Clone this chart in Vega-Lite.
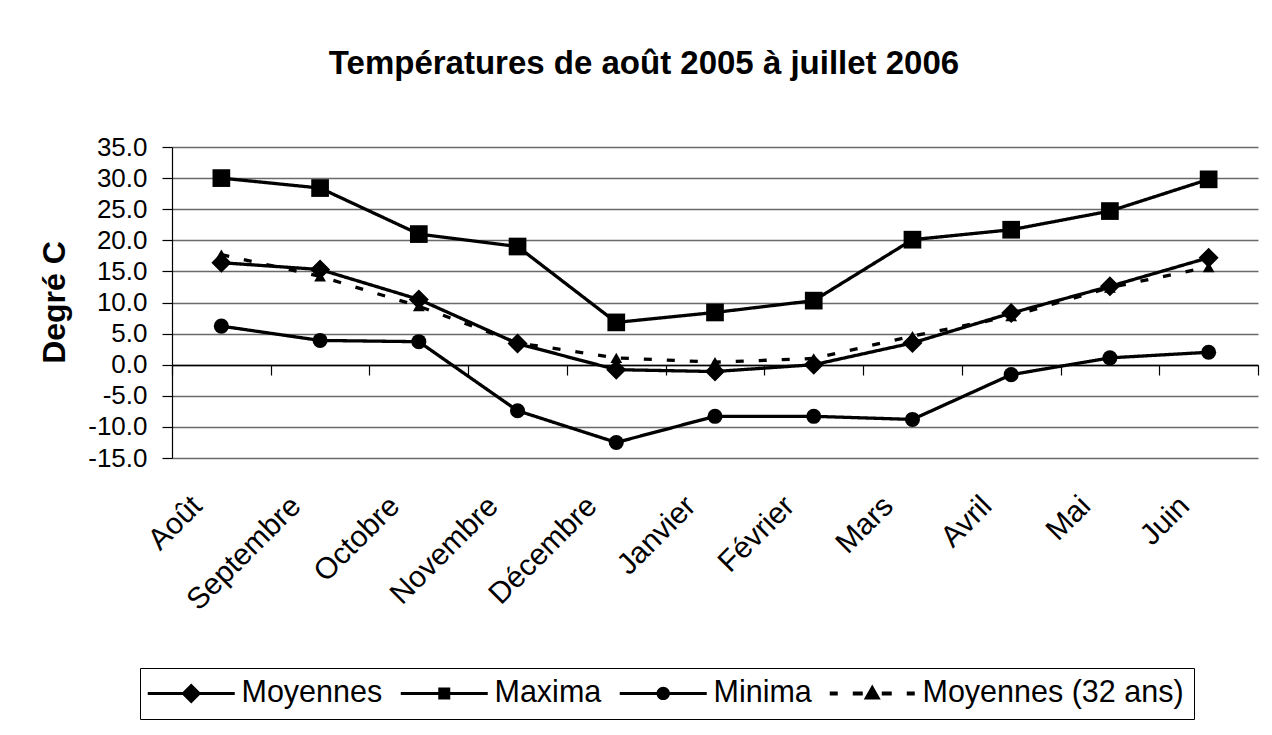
{
  "$schema": "https://vega.github.io/schema/vega-lite/v6.json",
  "width": 1086,
  "height": 311,
  "autosize": {"type": "none"},
  "padding": {"left": 172, "top": 147, "right": 14, "bottom": 277},
  "background": "white",
  "title": {
    "text": "Températures de août 2005 à juillet 2006",
    "font": "Liberation Sans",
    "fontSize": 33,
    "fontWeight": "bold",
    "color": "black",
    "anchor": "middle",
    "dx": -71,
    "offset": 53
  },
  "config": {
    "view": {"stroke": null},
    "font": "Liberation Sans"
  },
  "data": {
    "values": [
      {"mois": "Août", "serie": "Moyennes", "t": 16.4},
      {"mois": "Septembre", "serie": "Moyennes", "t": 15.3},
      {"mois": "Octobre", "serie": "Moyennes", "t": 10.5},
      {"mois": "Novembre", "serie": "Moyennes", "t": 3.4},
      {"mois": "Décembre", "serie": "Moyennes", "t": -0.8},
      {"mois": "Janvier", "serie": "Moyennes", "t": -1.1},
      {"mois": "Février", "serie": "Moyennes", "t": 0.0},
      {"mois": "Mars", "serie": "Moyennes", "t": 3.5},
      {"mois": "Avril", "serie": "Moyennes", "t": 8.3},
      {"mois": "Mai", "serie": "Moyennes", "t": 12.6},
      {"mois": "Juin", "serie": "Moyennes", "t": 17.2},
      {"mois": "Août", "serie": "Maxima", "t": 30.0},
      {"mois": "Septembre", "serie": "Maxima", "t": 28.4},
      {"mois": "Octobre", "serie": "Maxima", "t": 21.0},
      {"mois": "Novembre", "serie": "Maxima", "t": 19.0},
      {"mois": "Décembre", "serie": "Maxima", "t": 6.8},
      {"mois": "Janvier", "serie": "Maxima", "t": 8.4},
      {"mois": "Février", "serie": "Maxima", "t": 10.3},
      {"mois": "Mars", "serie": "Maxima", "t": 20.1},
      {"mois": "Avril", "serie": "Maxima", "t": 21.7},
      {"mois": "Mai", "serie": "Maxima", "t": 24.7},
      {"mois": "Juin", "serie": "Maxima", "t": 29.8},
      {"mois": "Août", "serie": "Minima", "t": 6.2},
      {"mois": "Septembre", "serie": "Minima", "t": 3.9},
      {"mois": "Octobre", "serie": "Minima", "t": 3.7},
      {"mois": "Novembre", "serie": "Minima", "t": -7.4},
      {"mois": "Décembre", "serie": "Minima", "t": -12.5},
      {"mois": "Janvier", "serie": "Minima", "t": -8.3},
      {"mois": "Février", "serie": "Minima", "t": -8.3},
      {"mois": "Mars", "serie": "Minima", "t": -8.8},
      {"mois": "Avril", "serie": "Minima", "t": -1.6},
      {"mois": "Mai", "serie": "Minima", "t": 1.1},
      {"mois": "Juin", "serie": "Minima", "t": 2.0},
      {"mois": "Août", "serie": "Moyennes (32 ans)", "t": 17.7},
      {"mois": "Septembre", "serie": "Moyennes (32 ans)", "t": 14.2},
      {"mois": "Octobre", "serie": "Moyennes (32 ans)", "t": 9.4},
      {"mois": "Novembre", "serie": "Moyennes (32 ans)", "t": 3.5},
      {"mois": "Décembre", "serie": "Moyennes (32 ans)", "t": 1.1},
      {"mois": "Janvier", "serie": "Moyennes (32 ans)", "t": 0.4},
      {"mois": "Février", "serie": "Moyennes (32 ans)", "t": 1.0},
      {"mois": "Mars", "serie": "Moyennes (32 ans)", "t": 4.6},
      {"mois": "Avril", "serie": "Moyennes (32 ans)", "t": 7.8},
      {"mois": "Mai", "serie": "Moyennes (32 ans)", "t": 12.4},
      {"mois": "Juin", "serie": "Moyennes (32 ans)", "t": 15.7}
    ]
  },
  "layer": [
    {
      "mark": {"type": "line", "color": "black", "strokeWidth": 3.3},
      "encoding": {
        "x": {
          "field": "mois", "type": "nominal",
          "sort": ["Août", "Septembre", "Octobre", "Novembre", "Décembre", "Janvier", "Février", "Mars", "Avril", "Mai", "Juin"],
          "scale": {"paddingInner": 0, "paddingOuter": 0},
          "axis": {
            "orient": "bottom", "title": null, "domain": false, "ticks": false, "tickSize": 0, "grid": false,
            "labelAngle": -45, "labelAlign": "right", "labelBaseline": "middle",
            "labelFont": "Liberation Sans", "labelFontSize": 30, "labelColor": "black",
            "labelPadding": 43, "labelOffset": -24
          }
        },
        "y": {
          "field": "t", "type": "quantitative",
          "scale": {"domain": [-15, 35], "nice": false, "zero": false},
          "axis": {
            "values": [-15, -10, -5, 0, 5, 10, 15, 20, 25, 30, 35],
            "tickCount": 11,
            "labelExpr": "replace(format(datum.value, '.1f'), '\u2212', '-')",
            "labelOverlap": false,
            "labelFont": "Liberation Sans", "labelFontSize": 26, "labelColor": "black",
            "labelPadding": 15, "tickSize": 10, "tickColor": "black", "domainColor": "black",
            "domainWidth": 1.2, "tickWidth": 1.2,
            "grid": true, "gridColor": "#6a6a6a", "gridWidth": 1.3,
            "title": "Degré C", "titleFont": "Liberation Sans", "titleFontSize": 32,
            "titleFontWeight": "bold", "titleColor": "black",
            "titleAngle": -90, "titleX": -118, "titleY": 155, "titleAlign": "center", "titleBaseline": "middle"
          }
        },
        "detail": {"field": "serie"},
        "strokeDash": {
          "field": "serie", "type": "nominal",
          "scale": {"domain": ["Moyennes", "Maxima", "Minima", "Moyennes (32 ans)"], "range": [[1, 0], [1, 0], [1, 0], [8, 15]]},
          "legend": null
        }
      }
    },
    {
      "mark": {"type": "point", "filled": true, "color": "black", "opacity": 1},
      "encoding": {
        "x": {
          "field": "mois", "type": "nominal",
          "sort": ["Août", "Septembre", "Octobre", "Novembre", "Décembre", "Janvier", "Février", "Mars", "Avril", "Mai", "Juin"],
          "axis": {
            "orient": "bottom", "offset": -93, "title": null, "labels": false, "grid": false,
            "domain": true, "domainColor": "black", "domainWidth": 1.5,
            "ticks": true, "tickBand": "extent", "tickSize": 10, "tickColor": "black", "tickWidth": 1.2
          }
        },
        "y": {"field": "t", "type": "quantitative"},
        "shape": {
          "field": "serie", "type": "nominal",
          "scale": {"domain": ["Moyennes", "Maxima", "Minima", "Moyennes (32 ans)"], "range": ["diamond", "square", "circle", "triangle-up"]},
          "legend": null
        },
        "size": {
          "field": "serie", "type": "nominal",
          "scale": {"domain": ["Moyennes", "Maxima", "Minima", "Moyennes (32 ans)"], "range": [400, 140, 182, 324]},
          "legend": null
        }
      }
    },
    {
      "mark": {"type": "point", "filled": true, "color": "black", "opacity": 0, "size": 400},
      "encoding": {
        "x": {
          "field": "mois", "type": "nominal",
          "sort": ["Août", "Septembre", "Octobre", "Novembre", "Décembre", "Janvier", "Février", "Mars", "Avril", "Mai", "Juin"],
          "axis": null
        },
        "y": {"field": "t", "type": "quantitative"},
        "shape": {
          "field": "serie", "type": "nominal",
          "scale": {
            "domain": ["Moyennes", "Maxima", "Minima", "Moyennes (32 ans)"],
            "range": [
              "M-1.75,-0.15H6.95V0.15H-1.75ZM1.6,0L2.6,-1L3.6,0L2.6,1Z",
              "M-1.75,-0.15H6.95V0.15H-1.75ZM2.0,-0.6H3.2V0.6H2.0Z",
              "M-1.75,-0.15H6.95V0.15H-1.75ZM3.27,0A0.67,0.67 0 1,1 1.93,0A0.67,0.67 0 1,1 3.27,0Z",
              "M-1.65,-0.2H-0.85V0.2H-1.65ZM0.65,-0.2H1.65V0.2H0.65ZM3.55,-0.2H4.55V0.2H3.55ZM6.05,-0.2H6.85V0.2H6.05ZM1.75,0.6L2.6,-0.9L3.45,0.6Z"
            ]
          },
          "legend": {
            "title": null, "orient": "none", "legendX": -32, "legendY": 521,
            "direction": "horizontal", "columns": 4,
            "symbolSize": 400, "symbolStrokeWidth": 0, "symbolOpacity": 1,
            "symbolFillColor": "black",
            "labelFont": "Liberation Sans", "labelFontSize": 30.5, "labelColor": "black",
            "labelOffset": 61, "columnPadding": 17, "padding": 10,
            "strokeColor": "black", "fillColor": "white", "labelLimit": 400
          }
        }
      }
    }
  ],
  "resolve": {"scale": {"shape": "independent"}, "axis": {"x": "independent"}}
}
